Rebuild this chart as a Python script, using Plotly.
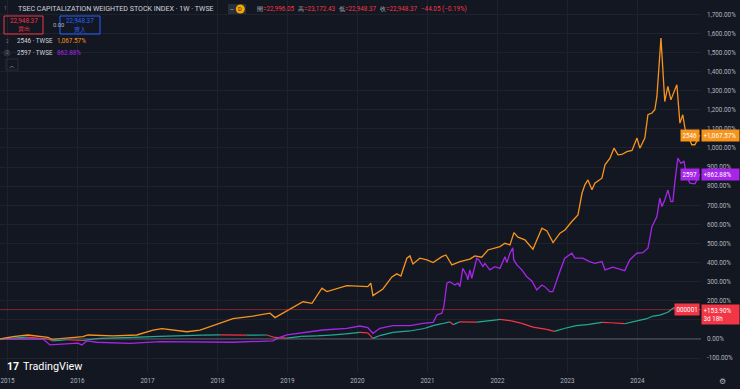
import plotly.graph_objects as go

# ---------------- data (percent change from first visible bar) ----------------
kedge_dates = ["2014-11-24","2015-01-30","2015-04-17","2015-07-31","2015-08-21","2016-01-30","2016-02-25",
    "2016-07-04","2016-11-06","2017-01-30","2017-03-17","2017-07-26","2017-10-02","2018-01-14","2018-03-23",
    "2018-07-05","2018-10-02","2018-10-28","2019-02-19","2019-03-23","2019-05-09","2019-06-30","2019-07-26",
    "2019-11-07","2020-02-24","2020-03-11","2020-03-22","2020-05-13","2020-06-29","2020-07-25","2020-08-15",
    "2020-09-15","2020-10-01","2020-10-17","2020-11-22","2020-12-29","2021-01-30","2021-03-17","2021-04-07",
    "2021-05-08","2021-06-19","2021-08-10","2021-09-05","2021-10-11","2021-11-12","2022-01-14","2022-02-09",
    "2022-03-07","2022-03-28","2022-04-18","2022-05-24","2022-07-05","2022-07-26","2022-08-21","2022-09-16",
    "2022-10-18","2022-11-23","2022-12-19","2023-01-24","2023-02-25","2023-03-18","2023-04-02","2023-04-18",
    "2023-05-09","2023-05-24","2023-06-30","2023-07-16","2023-08-11","2023-09-01","2023-09-22","2023-10-12",
    "2023-11-07","2023-12-04","2023-12-30","2024-01-14","2024-02-09","2024-02-25","2024-03-17","2024-04-01",
    "2024-04-12","2024-05-03","2024-05-13","2024-05-23","2024-06-08","2024-06-24","2024-07-04","2024-07-25",
    "2024-08-10","2024-08-25","2024-09-05","2024-10-11","2024-10-27","2024-11-22"]
kedge_vals = [0,12,21,9,-2,12,21,16,21,47,54,38,47,84,107,120,135,112,178,195,187,266,248,279,274,292,227,
    262,325,341,330,423,435,393,423,414,400,431,440,388,405,418,435,428,466,484,501,493,557,533,519,470,519,
    580,566,505,554,571,615,650,763,807,833,781,816,842,912,947,999,964,966,981,987,1052,999,1052,1174,1183,
    1200,1270,1576,1409,1243,1322,1252,1278,1331,1130,1174,1104,1017,1017,1067.57]

ruentex_dates = ["2014-11-24","2015-07-05","2015-08-11","2015-11-07","2016-01-03","2016-01-24","2016-02-19",
    "2016-04-12","2016-10-01","2017-03-07","2017-10-02","2018-03-23","2018-10-17","2018-11-22","2018-12-29",
    "2019-03-07","2019-04-12","2019-07-05","2019-11-07","2020-01-14","2020-02-24","2020-03-22","2020-04-27",
    "2020-07-04","2020-10-01","2020-12-08","2021-01-30","2021-02-19","2021-03-17","2021-03-27","2021-04-12",
    "2021-04-27","2021-05-24","2021-06-09","2021-06-19","2021-07-04","2021-07-25","2021-07-30","2021-08-10",
    "2021-08-20","2021-09-15","2021-09-26","2021-10-17","2021-10-27","2021-11-22","2021-12-18","2022-01-14",
    "2022-02-09","2022-02-19","2022-03-07","2022-03-22","2022-03-27","2022-04-12","2022-05-08","2022-06-03",
    "2022-06-29","2022-07-25","2022-08-20","2022-09-05","2022-10-01","2022-10-17","2022-11-06","2022-11-22",
    "2022-12-18","2023-01-24","2023-02-09","2023-03-22","2023-04-27","2023-05-24","2023-06-30","2023-07-16",
    "2023-08-26","2023-10-27","2023-11-22","2023-12-29","2024-01-30","2024-02-25","2024-03-17","2024-04-12",
    "2024-04-27","2024-05-08","2024-05-23","2024-06-08","2024-06-24","2024-07-04","2024-07-15","2024-07-30",
    "2024-08-15","2024-08-31","2024-09-15","2024-10-01","2024-10-27","2024-11-22"]
ruentex_vals = [0,0,-31,-27,-22,-31,-10,-17,-23,-14,-14,-17,-10,9,21,30,33,47,56,68,60,30,56,70,70,82,87,126,
    135,169,292,300,283,292,274,370,330,309,362,318,423,414,379,396,362,379,370,431,400,449,478,414,388,362,
    326,304,257,283,274,248,248,309,352,423,449,423,423,405,396,405,362,376,358,414,449,452,475,588,641,737,
    693,728,781,719,719,824,947,920,930,850,816,812,862.88]

taiex_dates = ["2014-11-24","2015-04-12","2015-07-31","2015-08-25","2015-11-07","2016-01-30","2016-04-27",
    "2016-10-15","2017-03-01","2017-07-15","2017-10-15","2018-01-15","2018-06-01","2018-09-15","2018-10-28",
    "2018-12-28","2019-03-15","2019-06-01","2019-08-15","2019-11-01","2020-01-14","2020-02-24","2020-03-22",
    "2020-04-27","2020-07-04","2020-10-01","2020-12-15","2021-01-30","2021-03-17","2021-04-27","2021-05-15",
    "2021-06-19","2021-09-15","2021-12-28","2022-01-14","2022-03-15","2022-05-08","2022-07-05","2022-09-15",
    "2022-10-25","2022-12-15","2023-02-15","2023-04-15","2023-06-30","2023-08-15","2023-10-27","2023-12-29",
    "2024-02-15","2024-03-17","2024-04-27","2024-06-08","2024-07-10","2024-08-05","2024-08-25","2024-09-15",
    "2024-10-15","2024-11-22"]
taiex_vals = [0,10,0,-10,-4,-8,3,8,14,18,20,22,20,21,8,5,14,16,20,27,35,32,3,18,35,42,55,70,80,90,75,90,88,
    100,103,95,82,62,50,40,55,70,75,87,85,80,95,105,118,125,140,165,130,145,140,155,153.9]

ohlc_labels = ["開", "高", "低", "收"]
ohlc_values = ["22,996.05", "23,172.43", "22,948.37", "22,948.37"]
ohlc_change = "−44.05 (−0.19%)"
bid_ask = ["22,948.37", "22,948.37"]
spread = "0.00"

y_ticks = list(range(-100, 1800, 100))
y_tick_text = [f"{v:,.2f}%" for v in y_ticks]

ORANGE = "#F7941D"
PURPLE = "#A526E8"
TEAL = "#22AB94"
RED = "#F23645"
BLUE = "#2962FF"
BG = "#131722"
TXT = "#B2B5BE"
font = "Roboto, Arial, sans-serif"

fig = go.Figure()

# index drawn as up/down coloured segments
up_x, up_y, dn_x, dn_y = [], [], [], []
for i in range(1, len(taiex_vals)):
    seg_x = [taiex_dates[i - 1], taiex_dates[i], None]
    seg_y = [taiex_vals[i - 1], taiex_vals[i], None]
    if taiex_vals[i] >= taiex_vals[i - 1]:
        up_x += seg_x; up_y += seg_y
    else:
        dn_x += seg_x; dn_y += seg_y

fig.add_hline(y=taiex_vals[-1], line=dict(color="rgba(242,54,69,0.5)", width=1))
fig.add_hline(y=0, line=dict(color="rgba(120,123,134,0.7)", width=1))

fig.add_trace(go.Scatter(x=up_x, y=up_y, mode="lines", line=dict(color=TEAL, width=1.2), hoverinfo="skip"))
fig.add_trace(go.Scatter(x=dn_x, y=dn_y, mode="lines", line=dict(color=RED, width=1.2), hoverinfo="skip"))
fig.add_trace(go.Scatter(x=ruentex_dates, y=ruentex_vals, mode="lines", line=dict(color=PURPLE, width=1.3)))
fig.add_trace(go.Scatter(x=kedge_dates, y=kedge_vals, mode="lines", line=dict(color=ORANGE, width=1.3)))

W, H = 740, 389
PW, PH = 701, 372


def px(xp):
    return xp / PW


def py(yp):
    return 1 - yp / PH


ann = []


def A(x, y, text, size=6.3, color=TXT, xanchor="left", yanchor="middle", **kw):
    ann.append(dict(x=px(x), y=py(y), xref="paper", yref="paper", text=text, showarrow=False,
                    font=dict(family=font, size=size, color=color), xanchor=xanchor, yanchor=yanchor, **kw))


# header
A(16, 9, "TSEC CAPITALIZATION WEIGHTED STOCK INDEX · 1W · TWSE", size=7.1, color="#D1D4DC")
for i, (k, v) in enumerate(zip(ohlc_labels, ohlc_values)):
    A(255 + 41 * i, 9, f"<span style='color:#B2B5BE'>{k}</span>={v}", size=6.3, color=RED)
A(419, 9, ohlc_change, size=6.3, color=RED)
A(23.5, 21, bid_ask[0], size=6.3, color=RED, xanchor="center")
A(23.5, 29, "賣出", size=6, color=RED, xanchor="center")
A(51, 25, spread, size=5.8, color=TXT)
A(80, 21, bid_ask[1], size=6.3, color=BLUE, xanchor="center")
A(80, 29, "買入", size=6, color=BLUE, xanchor="center")
A(15, 41, "2546 · TWSE", size=6.3, color="#D1D4DC")
A(55, 41, f"{kedge_vals[-1]:,.2f}%", size=6.3, color=ORANGE)
A(15, 53, "2597 · TWSE", size=6.3, color="#D1D4DC")
A(55, 53, f"{ruentex_vals[-1]:,.2f}%", size=6.3, color=PURPLE)
A(5, 9, "1", size=4.5, color="#787B86", xanchor="center")
A(7, 41, "2", size=4.5, color="#787B86", xanchor="center")
A(7, 53, "2", size=4.5, color="#787B86", xanchor="center")
A(12, 65, "︿", size=6, color=TXT, xanchor="center")
A(240.2, 9, "D", size=5.5, color="#131722", xanchor="center")
A(232, 9, "–", size=6, color="#D1D4DC", xanchor="center")

# logo
A(5, 366, "<b>17</b>", size=10.5, color="#FFFFFF")
A(21, 366, "TradingView", size=10.8, color="#FFFFFF")
A(722, 381, "⚙", size=8, color=TXT, xanchor="center")


# right-side value labels
def tag(val, name, color, extra=None):
    ann.append(dict(x=1.0, y=val, xref="paper", yref="y", text=name, showarrow=False, xanchor="right",
                    yanchor="middle", bgcolor=color, borderpad=1.5, xshift=-1,
                    font=dict(family=font, size=6.3, color="#FFFFFF")))
    txt = f"+{val:,.2f}%" if extra is None else f"+{val:,.2f}%<br>{extra}"
    ann.append(dict(x=1.0, y=val, xref="paper", yref="y", text=txt, showarrow=False, xanchor="left",
                    yanchor="top" if extra else "middle", yshift=5.5 if extra else 0,
                    bgcolor=color, borderpad=1.5, width=34, align="left",
                    font=dict(family=font, size=6.3, color="#FFFFFF")))


tag(kedge_vals[-1], "2546", ORANGE)
tag(ruentex_vals[-1], "2597", PURPLE)
tag(taiex_vals[-1], "000001", RED, extra="3d 18h")

shapes = [
    dict(type="circle", xref="paper", yref="paper", x0=px(1), x1=px(9), y0=py(5), y1=py(13),
         line=dict(width=0), fillcolor="#2A2E39"),
    dict(type="circle", xref="paper", yref="paper", x0=px(3.5), x1=px(10.5), y0=py(37.5), y1=py(44.5),
         line=dict(width=0), fillcolor="#2A2E39"),
    dict(type="circle", xref="paper", yref="paper", x0=px(3.5), x1=px(10.5), y0=py(49.5), y1=py(56.5),
         line=dict(width=0), fillcolor="#2A2E39"),
    dict(type="rect", xref="paper", yref="paper", x0=px(4), x1=px(43), y0=py(16), y1=py(34),
         line=dict(color=RED, width=1), fillcolor="rgba(0,0,0,0)"),
    dict(type="rect", xref="paper", yref="paper", x0=px(60), x1=px(100), y0=py(16), y1=py(34),
         line=dict(color=BLUE, width=1), fillcolor="rgba(0,0,0,0)"),
    dict(type="rect", xref="paper", yref="paper", x0=px(228), x1=px(246), y0=py(4), y1=py(14),
         line=dict(width=0), fillcolor="#2A2E39"),
    dict(type="circle", xref="paper", yref="paper", x0=px(235.8), x1=px(244.8), y0=py(4.5), y1=py(13.5),
         line=dict(width=0), fillcolor="#F7A600"),
    dict(type="rect", xref="paper", yref="paper", x0=px(6), x1=px(18), y0=py(59), y1=py(70),
         line=dict(color="#2A2E39", width=1), fillcolor="rgba(0,0,0,0)"),
]

fig.update_layout(
    width=W, height=H, margin=dict(l=0, r=W - PW, t=0, b=H - PH, autoexpand=False),
    paper_bgcolor=BG, plot_bgcolor=BG, showlegend=False,
    annotations=ann, shapes=shapes,
    xaxis=dict(range=["2014-11-23", "2024-11-28"], tick0="2015-01-01", dtick="M12", tickformat="%Y",
               showgrid=True, gridcolor="#1E222D", gridwidth=1, zeroline=False, showline=False,
               automargin=False, tickfont=dict(family=font, size=6.3, color=TXT), ticks="",
               ticklabelstandoff=4),
    yaxis=dict(range=[-172.8, 1774.8], side="right", tickvals=y_ticks, ticktext=y_tick_text,
               showgrid=True, gridcolor="#1E222D", gridwidth=1, zeroline=False, showline=False,
               automargin=False, tickfont=dict(family=font, size=6.3, color=TXT), ticks="",
               ticklabelstandoff=5),
)

fig.write_html("out.html", config={"displayModeBar": False},
               post_script="document.body.style.margin='0';document.body.style.padding='0';"
                           "document.body.style.overflow='hidden';")
